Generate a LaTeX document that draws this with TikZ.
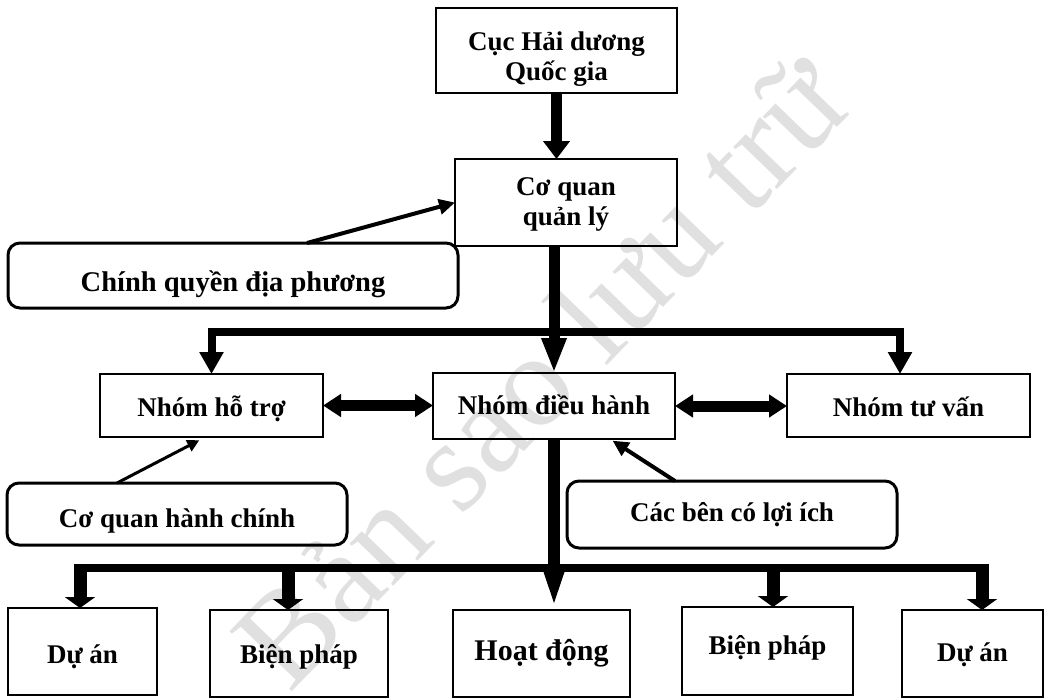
\documentclass[tikz,border=0pt]{standalone}
\usepackage{fontspec}
\setmainfont{Liberation Serif}
\usetikzlibrary{arrows.meta}
\newcommand{\lbl}[2]{\raisebox{#1pt}{#2}}
\begin{document}
\begin{tikzpicture}[x=1pt,y=-1pt,
  every node/.style={inner sep=0pt,outer sep=0pt,align=center,
    font=\fontsize{27}{30}\selectfont\bfseries},
  oneline/.style={text height=20pt,text depth=6pt},
  unitbox/.style={draw,line width=2.4pt},
  partybox/.style={draw,line width=3pt,rounded corners=12pt,oneline},
  press/.style={line width=11pt,-{Triangle[width=26pt,length=18pt]}},
  drop/.style={line width=8pt,-{Triangle[width=23pt,length=22pt]}},
  spear/.style={line width=11pt,-{Triangle[width=23pt,length=35pt]}},
  stub/.style={line width=13pt,-{Triangle[width=30pt,length=11pt]}},
  link/.style={line width=11pt,{Triangle[width=22pt,length=18pt]}-{Triangle[width=22pt,length=18pt]}},
  hint/.style={line width=4pt,-{Triangle[width=15pt,length=16pt]}},
]
% canvas
\fill[white] (0,0) rectangle (1048,699);
\useasboundingbox (0,0) rectangle (1048,699);

% archive stamp behind the chart
\node[text=black!12,rotate=46,font=\fontsize{132}{140}\selectfont\mdseries] (stamp) at (540,370) {Bản sao lưu trữ};

% units
\node[unitbox,minimum width=241pt,minimum height=85pt] (cuc) at (556.5,50.5) {};
\node (cuctext) at ([yshift=-9pt]cuc.center) {Cục Hải dương\\Quốc gia};
\node[unitbox,minimum width=222pt,minimum height=87pt] (coquan) at (566,202.5) {};
\node (coquantext) at ([yshift=-2pt]coquan.center) {Cơ quan\\quản lý};
\node[partybox,minimum width=450pt,minimum height=65pt,font=\fontsize{28.5}{30}\selectfont\bfseries] (chinhquyen) at (233,275.5) {\lbl{-9}{Chính quyền địa phương}};
\node[unitbox,oneline,minimum width=223pt,minimum height=63pt] (hotro) at (211.5,405.5) {\lbl{-3.5}{Nhóm hỗ trợ}};
\node[unitbox,oneline,minimum width=242pt,minimum height=66pt] (dieuhanh) at (554,406) {\lbl{-1}{Nhóm điều hành}};
\node[unitbox,oneline,minimum width=243pt,minimum height=63pt] (tuvan) at (908.5,405.5) {\lbl{-3.5}{Nhóm tư vấn}};
\node[partybox,minimum width=340pt,minimum height=62pt] (hanhchinh) at (177,514) {\lbl{-6}{Cơ quan hành chính}};
\node[partybox,minimum width=330pt,minimum height=67pt] (cacben) at (732,514.5) {\lbl{0}{Các bên có lợi ích}};
\node[unitbox,oneline,minimum width=149pt,minimum height=87pt] (duan1) at (82.5,651.5) {\lbl{-4.5}{Dự án}};
\node[unitbox,oneline,minimum width=178pt,minimum height=87pt] (bienphap1) at (299,653.5) {\lbl{-2.5}{Biện pháp}};
\node[unitbox,oneline,minimum width=177pt,minimum height=87pt,font=\fontsize{30}{30}\selectfont\bfseries] (hoatdong) at (541.5,653.5) {\lbl{0}{Hoạt động}};
\node[unitbox,oneline,minimum width=171pt,minimum height=88pt] (bienphap2) at (767.5,651) {\lbl{4}{Biện pháp}};
\node[unitbox,oneline,minimum width=141pt,minimum height=87pt] (duan2) at (972.5,653.5) {\lbl{-0.5}{Dự án}};

% upper hierarchy
\draw[press] (cuc.south) -- (cuc.south |- coquan.north);
\coordinate (j1) at (554,332);
\draw[spear] (coquan.south -| dieuhanh.north) -- (dieuhanh.north);
\draw[drop] (j1) -| (hotro.north);
\coordinate (tvin) at ([xshift=-8.5pt]tuvan.north);
\draw[drop] (j1) -| (tvin);

% links between the groups
\draw[link] (hotro.east) -- (hotro.east -| dieuhanh.west);
\draw[link] (dieuhanh.east) -- (dieuhanh.east -| tuvan.west);

% lower hierarchy
\coordinate (j2) at (554,568);
\draw[line width=12pt,-{Triangle[width=20pt,length=43pt]}] (dieuhanh.south) -- (dieuhanh.south |- hoatdong.north);
\coordinate (t1) at ([xshift=-2.5pt]duan1.north);
\coordinate (t2) at ([xshift=-11pt]bienphap1.north);
\coordinate (t4) at ([xshift=5.5pt]bienphap2.north);
\coordinate (t5) at ([xshift=9.5pt]duan2.north);
\draw[line width=7.5pt] ([xshift=-6.5pt]t1 |- j2) -- ([xshift=6.5pt]t5 |- j2);
\foreach \t in {t1,t2,t4,t5} \draw[stub] (\t |- j2) -- (\t);

% supporting parties
\draw[hint] ([xshift=74pt]chinhquyen.north) -- (coquan.west);
\draw[hint,line width=3pt,-{Triangle[width=12pt,length=12pt]},shorten >=7pt] ([xshift=-60pt]hanhchinh.north) -- ([xshift=-6pt]hotro.south);
\draw[hint,shorten >=3pt] ([xshift=-57pt]cacben.north) -- ([xshift=56pt]dieuhanh.south);
\end{tikzpicture}
\end{document}
